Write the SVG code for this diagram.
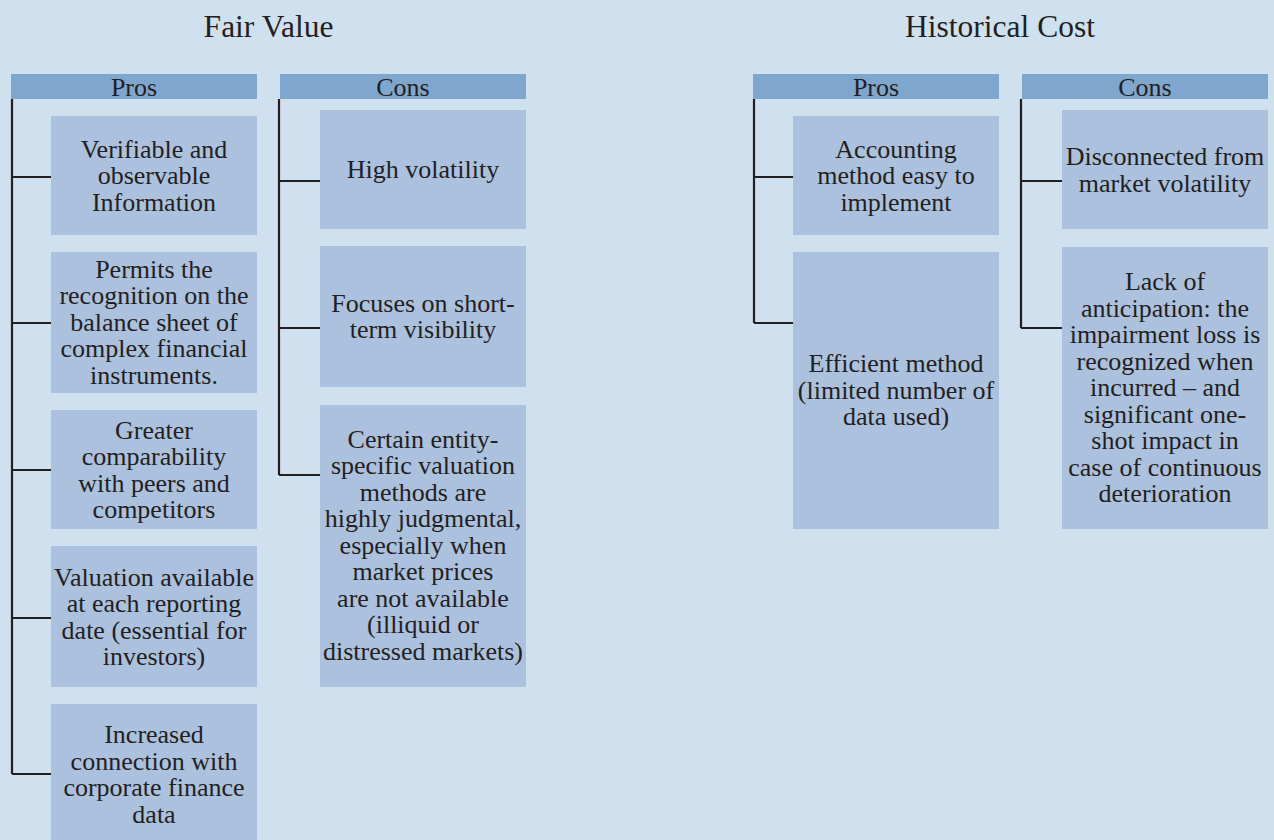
<svg xmlns="http://www.w3.org/2000/svg" width="1274" height="840" viewBox="0 0 1274 840">
<style>
.bg{fill:#cfe0ee}
.hd{fill:#7fa6cc}
.bx{fill:#abc1dd}
text{font-family:"Liberation Serif","Times New Roman",serif;fill:#231f20;text-anchor:middle}
.t{font-size:26px}
.ti{font-size:31.5px}
.c{stroke:#231f20;stroke-width:2.2;fill:none}
</style>
<rect class="bg" x="0" y="0" width="1274" height="840"/>
<text class="ti" x="268.5" y="37">Fair Value</text>
<text class="ti" x="1000" y="37">Historical Cost</text>

<g id="connectors">
<path class="c" d="M12 99V774M12 177H51M12 323H51M12 470H51M12 618H51M12 774H51"/>
<path class="c" d="M279 99V475M279 181H320M279 328H320M279 475H320"/>
<path class="c" d="M754 99V323M754 177H793M754 323H793"/>
<path class="c" d="M1021 99V328M1021 181H1062M1021 328H1062"/>
</g>

<g id="fv-pros-header"><rect class="hd" x="11" y="74" width="246" height="25"/><text class="t" x="134" y="96">Pros</text></g>
<g id="fv-cons-header"><rect class="hd" x="280" y="74" width="246" height="25"/><text class="t" x="403" y="96">Cons</text></g>
<g id="hc-pros-header"><rect class="hd" x="753" y="74" width="246" height="25"/><text class="t" x="876" y="96">Pros</text></g>
<g id="hc-cons-header"><rect class="hd" x="1022" y="74" width="246" height="25"/><text class="t" x="1145" y="96">Cons</text></g>

<g id="fv-pro-1"><rect class="bx" x="51" y="116" width="206" height="119"/>
<text class="t" x="154"><tspan x="154" y="157.5">Verifiable and</tspan><tspan x="154" y="184">observable</tspan><tspan x="154" y="210.5">Information</tspan></text></g>
<g id="fv-pro-2"><rect class="bx" x="51" y="252" width="206" height="141"/>
<text class="t"><tspan x="154" y="277.5">Permits the</tspan><tspan x="154" y="304">recognition on the</tspan><tspan x="154" y="330.5">balance sheet of</tspan><tspan x="154" y="357">complex financial</tspan><tspan x="154" y="383.5">instruments.</tspan></text></g>
<g id="fv-pro-3"><rect class="bx" x="51" y="410" width="206" height="119"/>
<text class="t"><tspan x="154" y="438.5">Greater</tspan><tspan x="154" y="465">comparability</tspan><tspan x="154" y="491.5">with peers and</tspan><tspan x="154" y="518">competitors</tspan></text></g>
<g id="fv-pro-4"><rect class="bx" x="51" y="546" width="206" height="141"/>
<text class="t"><tspan x="154" y="585.5">Valuation available</tspan><tspan x="154" y="612">at each reporting</tspan><tspan x="154" y="638.5">date (essential for</tspan><tspan x="154" y="665">investors)</tspan></text></g>
<g id="fv-pro-5"><rect class="bx" x="51" y="704" width="206" height="141"/>
<text class="t"><tspan x="154" y="743">Increased</tspan><tspan x="154" y="769.5">connection with</tspan><tspan x="154" y="796">corporate finance</tspan><tspan x="154" y="822.5">data</tspan></text></g>

<g id="fv-con-1"><rect class="bx" x="320" y="110" width="206" height="119"/>
<text class="t" x="423" y="178.3">High volatility</text></g>
<g id="fv-con-2"><rect class="bx" x="320" y="246" width="206" height="141"/>
<text class="t"><tspan x="423" y="311.7">Focuses on short-</tspan><tspan x="423" y="338.2">term visibility</tspan></text></g>
<g id="fv-con-3"><rect class="bx" x="320" y="405" width="206" height="282"/>
<text class="t"><tspan x="423" y="447.5">Certain entity-</tspan><tspan x="423" y="474">specific valuation</tspan><tspan x="423" y="500.5">methods are</tspan><tspan x="423" y="527">highly judgmental,</tspan><tspan x="423" y="553.5">especially when</tspan><tspan x="423" y="580">market prices</tspan><tspan x="423" y="606.5">are not available</tspan><tspan x="423" y="633">(illiquid or</tspan><tspan x="423" y="659.5">distressed markets)</tspan></text></g>

<g id="hc-pro-1"><rect class="bx" x="793" y="116" width="206" height="119"/>
<text class="t"><tspan x="896" y="157.5">Accounting</tspan><tspan x="896" y="184">method easy to</tspan><tspan x="896" y="210.5">implement</tspan></text></g>
<g id="hc-pro-2"><rect class="bx" x="793" y="252" width="206" height="277"/>
<text class="t"><tspan x="896" y="372.3">Efficient method</tspan><tspan x="896" y="398.8">(limited number of</tspan><tspan x="896" y="425.3">data used)</tspan></text></g>

<g id="hc-con-1"><rect class="bx" x="1062" y="110" width="206" height="119"/>
<text class="t"><tspan x="1165" y="165">Disconnected from</tspan><tspan x="1165" y="191.5">market volatility</tspan></text></g>
<g id="hc-con-2"><rect class="bx" x="1062" y="247" width="206" height="282"/>
<text class="t"><tspan x="1165" y="290">Lack of</tspan><tspan x="1165" y="316.5">anticipation: the</tspan><tspan x="1165" y="343">impairment loss is</tspan><tspan x="1165" y="369.5">recognized when</tspan><tspan x="1165" y="396">incurred – and</tspan><tspan x="1165" y="422.5">significant one-</tspan><tspan x="1165" y="449">shot impact in</tspan><tspan x="1165" y="475.5">case of continuous</tspan><tspan x="1165" y="502">deterioration</tspan></text></g>
</svg>
